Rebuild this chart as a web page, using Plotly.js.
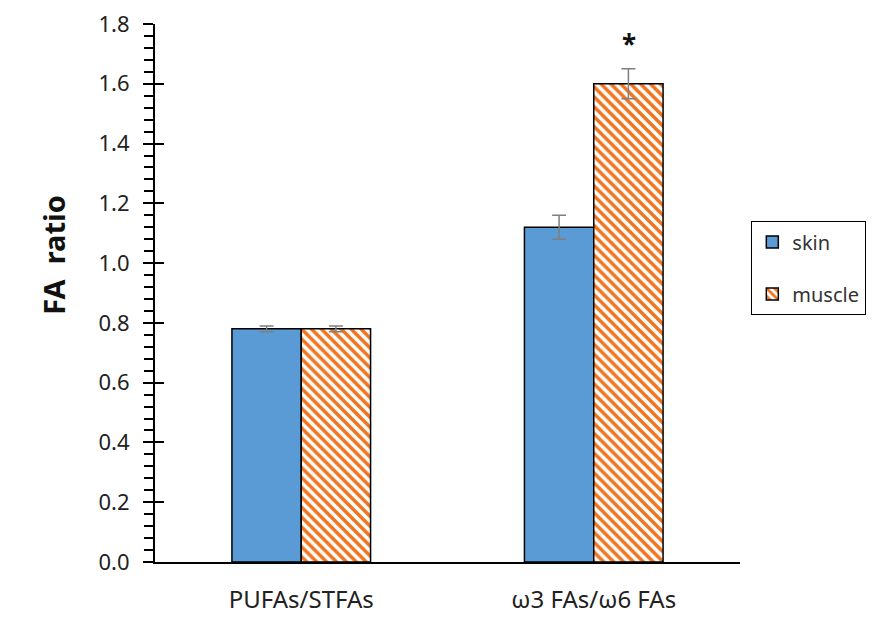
<!DOCTYPE html>
<html>
<head>
<meta charset="utf-8">
<script src="https://cdn.plot.ly/plotly-3.0.1.min.js"></script>
<style>html,body{margin:0;padding:0;background:#fff;}#chart{width:878px;height:617px;}</style>
</head>
<body>
<div id="chart"></div>
<script>
const categories = ["PUFAs/STFAs", "ω3 FAs/ω6 FAs"];
const skinValues = [0.78, 1.12];
const skinErrors = [0.01, 0.04];
const muscleValues = [0.78, 1.60];
const muscleErrors = [0.01, 0.05];
const yTickVals = [0, 0.2, 0.4, 0.6, 0.8, 1.0, 1.2, 1.4, 1.6, 1.8];
const yTickText = ["0.0", "0.2", "0.4", "0.6", "0.8", "1.0", "1.2", "1.4", "1.6", "1.8"];
const significance = ["", "*"];
const yTitle = "FA  ratio";

const FONT = "Noto Sans, Liberation Sans, sans-serif";
const errStyle = {type: "data", visible: true, color: "#7f7f7f", thickness: 1.5, width: 7};

const traces = [
  {
    type: "bar", name: "skin", x: categories, y: skinValues,
    error_y: Object.assign({array: skinErrors}, errStyle),
    marker: {color: "#5B9BD5", line: {color: "#000", width: 1.5}},
    legendgroup: "a"
  },
  {
    type: "bar", name: "muscle", x: categories, y: muscleValues,
    error_y: Object.assign({array: muscleErrors}, errStyle),
    marker: {color: "#ffffff", line: {color: "#000", width: 1.5},
             pattern: {shape: "\\", fgcolor: "#F0741E", bgcolor: "#ffffff", fgopacity: 1, size: 7, solidity: 0.5, fillmode: "replace"}},
    legendgroup: "b"
  },
  {
    type: "scatter", x: categories, y: [null, null], yaxis: "y2", showlegend: false, hoverinfo: "skip"
  }
];

const annotations = [];
categories.forEach((c, i) => {
  if (significance[i]) {
    annotations.push({
      x: c, y: muscleValues[i] + muscleErrors[i], xref: "x", yref: "y",
      text: "<b>" + significance[i] + "</b>", showarrow: false,
      xshift: 35, yshift: 25, font: {family: FONT, size: 26, color: "#111"}
    });
  }
});
const pw = 878 - 155 - 132, ph = 617 - 24 - 55;
annotations.push({
  x: (30 - 155) / pw, y: (617 - 55 - 255) / ph, xref: "paper", yref: "paper", showarrow: false,
  text: "<b>" + yTitle + "</b>", textangle: -90,
  font: {family: FONT, size: 29, color: "#111"}
});

const layout = {
  width: 878, height: 617,
  margin: {l: 155, r: 132, t: 24, b: 55},
  paper_bgcolor: "#fff", plot_bgcolor: "#fff",
  barmode: "group", bargap: 0.526, bargroupgap: 0,
  showlegend: true,
  legend: {
    x: 1.019, xanchor: "left", y: 0.546, yanchor: "middle",
    bordercolor: "#000", borderwidth: 1.2, bgcolor: "#fff",
    font: {family: FONT, size: 20, color: "#333"},
    tracegroupgap: 23, itemwidth: 30
  },
  xaxis: {
    type: "category", showline: true, linecolor: "#000", linewidth: 2,
    ticks: "", showgrid: false, zeroline: false,
    tickfont: {family: FONT, size: 24, color: "#222"},
    ticklabelstandoff: 15
  },
  yaxis: {
    range: [0, 1.8], showline: true, linecolor: "#000", linewidth: 2,
    tickvals: yTickVals, ticktext: yTickText,
    ticks: "outside", ticklen: 10, tickwidth: 2, tickcolor: "#000",
    minor: {dtick: 0.04, ticks: "outside", ticklen: 9, tickwidth: 2, tickcolor: "#000", showgrid: false},
    showgrid: false, zeroline: false,
    tickfont: {family: FONT, size: 22, color: "#222"},
    ticklabelstandoff: 9,
    automargin: false
  },
  yaxis2: {
    overlaying: "y", range: [0, 1.8], tickvals: yTickVals, ticktext: yTickVals.map(() => ""),
    ticks: "inside", ticklen: 9, tickwidth: 2, tickcolor: "#000",
    showgrid: false, zeroline: false, showline: false, side: "left"
  },
  annotations: annotations
};

Plotly.newPlot("chart", traces, layout, {displayModeBar: false, staticPlot: true});
</script>
</body>
</html>
